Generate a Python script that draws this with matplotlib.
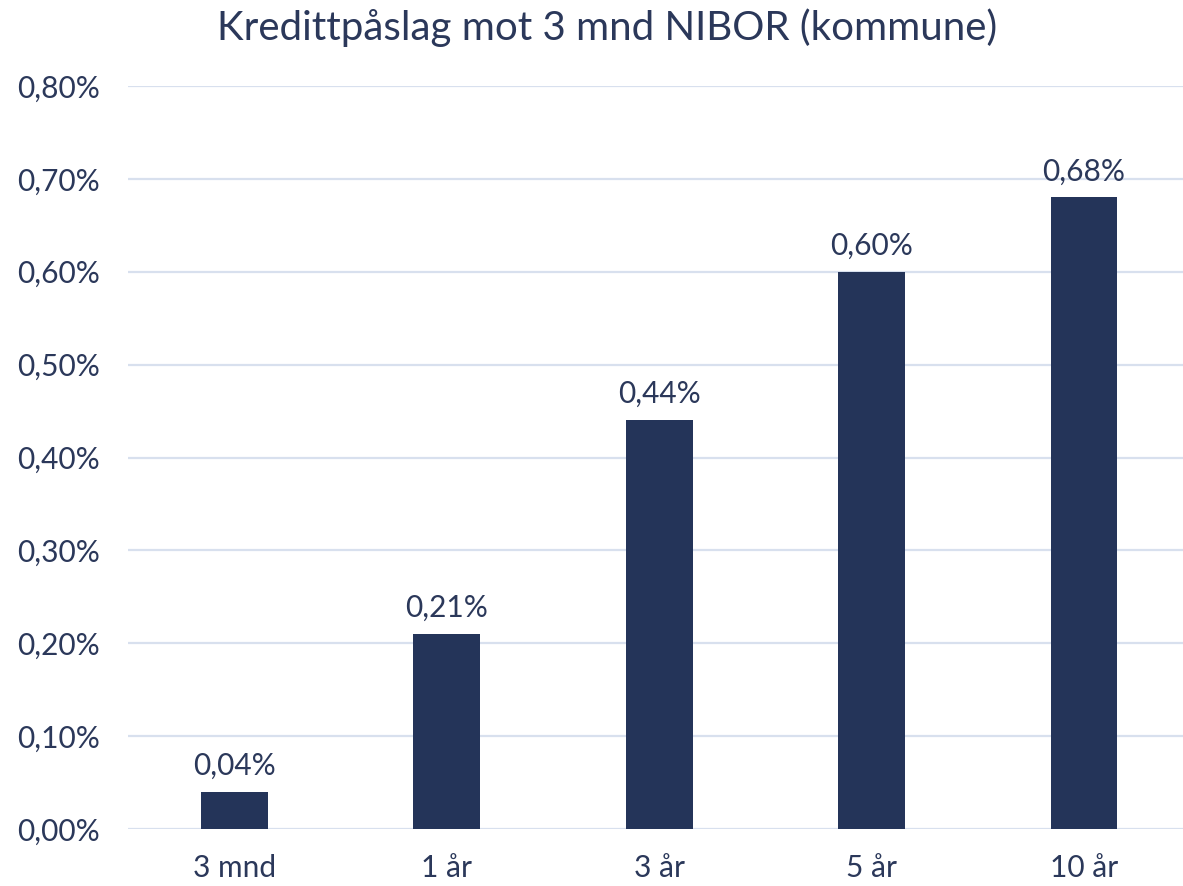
import numpy as np
import matplotlib.pyplot as plt

categories = ["3 mnd", "1 år", "3 år", "5 år", "10 år"]
values = [0.04, 0.21, 0.44, 0.60, 0.68]
y_ticks = [0.0, 0.1, 0.2, 0.3, 0.4, 0.5, 0.6, 0.7, 0.8]

text_color = "#2b385a"
bar_color = "#243459"
grid_color = "#d8e0ee"

plt.rcParams['font.family'] = ['Lato', 'DejaVu Sans']

fig = plt.figure(figsize=(11.83, 8.86), dpi=100)
ax = fig.add_axes([128 / 1183, 1 - 829 / 886, (1183 - 128) / 1183, (829 - 86) / 886])

x = np.arange(len(categories))
ax.bar(x, values, width=0.315, color=bar_color, zorder=3)
for xi, v in zip(x, values):
    ax.text(xi, v + 0.013, f"{v:.2f}%".replace(".", ","), ha="center", va="bottom",
            fontsize=21.5, color=text_color)

ax.set_xlim(-0.5, 4.466)
ax.set_ylim(0, 0.8)
ax.set_yticks(y_ticks)
ax.set_yticklabels([f"{t:.2f}%".replace(".", ",") for t in y_ticks])
ax.set_xticks(x)
ax.set_xticklabels(categories)
ax.tick_params(axis="both", length=0, labelsize=21.5, labelcolor=text_color)
ax.tick_params(axis="y", pad=20)
ax.tick_params(axis="x", pad=18)
ax.grid(axis="y", color=grid_color, linewidth=1.6, zorder=0)
for s in ax.spines.values():
    s.set_visible(False)

fig.text(0.5 * (217 + 997) / 1183, 1 - 28 / 886, "Kredittpåslag mot 3 mnd NIBOR (kommune)",
         ha="center", va="center", fontsize=29, color=text_color)

fig.savefig("out.png", dpi=100)
